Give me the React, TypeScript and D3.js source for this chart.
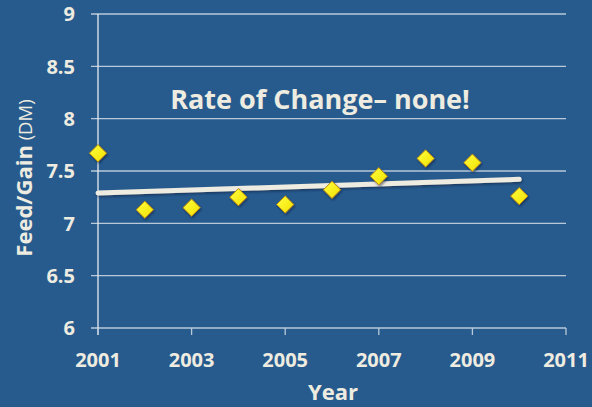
import React from "react";
import * as d3 from "d3";

const years = [2001, 2002, 2003, 2004, 2005, 2006, 2007, 2008, 2009, 2010];
const feedGain = [7.67, 7.13, 7.15, 7.25, 7.18, 7.32, 7.45, 7.62, 7.58, 7.26];
const trendYears = [2001, 2010];
const trendValues = [7.29, 7.42];
const yTicks = [6, 6.5, 7, 7.5, 8, 8.5, 9];
const xTicks = [2001, 2003, 2005, 2007, 2009, 2011];

const W = 592;
const H = 407;
const BG = "#275b8e";
const FG = "#eeece0";
const FONT = "'Open Sans', sans-serif";

export default function App() {
  const x = d3.scaleLinear().domain([2001, 2011]).range([98, 566]);
  const y = d3.scaleLinear().domain([6, 9]).range([328, 14]);
  const line = d3
    .line<number>()
    .x((_, i) => x(trendYears[i]))
    .y((d) => y(d));
  const diamond = d3.symbol().type(d3.symbolDiamond2).size(190)();
  return (
    <svg
      width={W}
      height={H}
      style={{ position: "absolute", left: 0, top: 0, display: "block" }}
    >
      <defs>
        <filter id="sh" x="-50%" y="-50%" width="200%" height="200%">
          <feDropShadow dx="1" dy="1.5" stdDeviation="1.2" floodColor="#0a1f3a" floodOpacity="0.6" />
        </filter>
        <linearGradient id="dg" x1="0" y1="0" x2="1" y2="1">
          <stop offset="0%" stopColor="#ffff40" />
          <stop offset="100%" stopColor="#f2e000" />
        </linearGradient>
      </defs>
      <rect x={0} y={0} width={W} height={H} fill={BG} />
      {yTicks.map((t) => (
        <g key={t}>
          <line x1={91} x2={566} y1={y(t)} y2={y(t)} stroke="#b9c9da" strokeWidth={1.3} />
          <text
            x={75}
            y={y(t)}
            dy="0.36em"
            textAnchor="end"
            fill={FG}
            fontFamily={FONT}
            fontWeight="bold"
            fontSize={20}
          >
            {t}
          </text>
        </g>
      ))}
      <line x1={98} x2={98} y1={14} y2={335} stroke="#e8ecf0" strokeWidth={1.3} />
      {xTicks.map((t) => (
        <g key={t}>
          <line x1={x(t)} x2={x(t)} y1={328} y2={335} stroke="#b9c9da" strokeWidth={1.3} />
          <text
            x={x(t)}
            y={367}
            textAnchor="middle"
            fill={FG}
            fontFamily={FONT}
            fontWeight="bold"
            fontSize={20}
          >
            {t}
          </text>
        </g>
      ))}
      <text
        x={333}
        y={400}
        textAnchor="middle"
        fill={FG}
        fontFamily={FONT}
        fontWeight="bold"
        fontSize={22}
      >
        Year
      </text>
      <text
        transform={`translate(32,178) rotate(-90)`}
        textAnchor="middle"
        fill={FG}
        fontFamily={FONT}
        fontSize={22}
      >
        <tspan fontWeight="bold">Feed/Gain</tspan>
        <tspan fontSize={18.5}> (DM)</tspan>
      </text>
      <text
        x={320}
        y={109}
        textAnchor="middle"
        fill={FG}
        fontFamily={FONT}
        fontWeight="bold"
        fontSize={27}
      >
        Rate of Change– none!
      </text>
      <path
        d={line(trendValues) || ""}
        fill="none"
        stroke="#eeebe0"
        strokeWidth={5}
        strokeLinecap="round"
        filter="url(#sh)"
      />
      {years.map((yr, i) => (
        <path
          key={yr}
          d={diamond || ""}
          transform={`translate(${x(yr)},${y(feedGain[i])})`}
          fill="url(#dg)"
          stroke="#b8860b"
          strokeWidth={1}
          filter="url(#sh)"
        />
      ))}
    </svg>
  );
}
